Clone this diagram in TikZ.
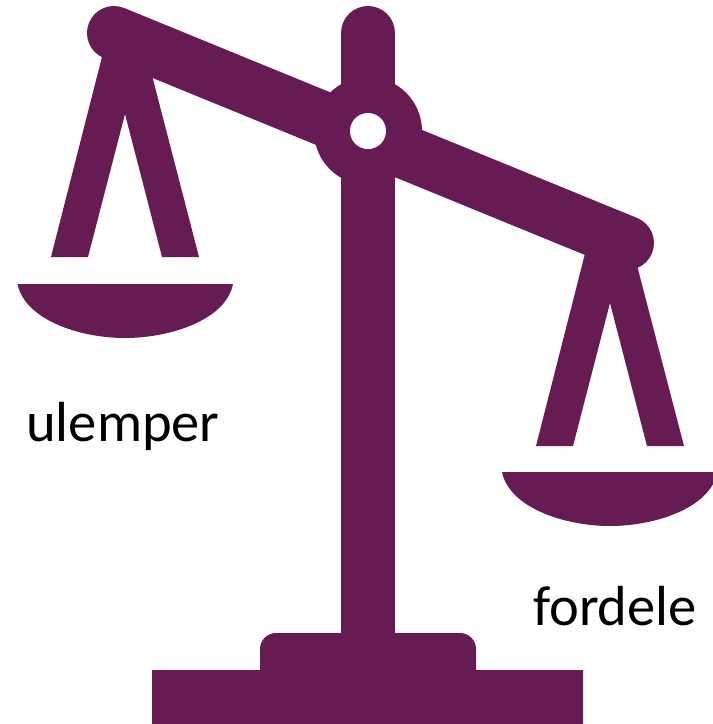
\documentclass[tikz,border=0pt]{standalone}
\usepackage{xcolor}
\usepackage{fontspec}
\setmainfont{Carlito}
\usepackage{tikz}
\definecolor{ScalePurple}{HTML}{661C52}
\tikzset{
  scalepart/.style={fill=ScalePurple,draw=none},
  scalelabel/.style={text=black,font=\fontsize{56.5}{66}\selectfont,inner sep=0pt}
}

\begin{document}
\begin{tikzpicture}[x=1pt,y=-1pt]
  \useasboundingbox (0,0) rectangle (713,724);
  \clip (0,0) rectangle (713,724);
  \fill[white] (0,0) rectangle (713,724);
  % beam, post, hub
  \draw[ScalePurple,line width=54pt,line cap=round] (114,33) -- (627,243);
  \draw[ScalePurple,line width=54pt,line cap=round] (368,33) -- (368,650);
  \fill[scalepart] (368,131) circle[radius=54];
  \fill[white] (368,131) circle[radius=18];
  % left pan
  \fill[scalepart] (106.3,40) -- (51,257) -- (88,257) -- (125,114) -- (162,257) -- (199,257) -- (148,60) -- cycle;
  \fill[scalepart] (17.5,284) -- (233,284) .. controls (226,320) and (170,338) .. (125,338) .. controls (80,338) and (25,320) .. (17.5,284) -- cycle;
  % right pan
  \fill[scalepart] (591,230) -- (536,446) -- (573,446) -- (610,303) -- (647,446) -- (684,446) -- (633,250) -- cycle;
  \fill[scalepart] (502,472) -- (717.5,472) .. controls (710.5,508) and (655,526) .. (610,526) .. controls (565,526) and (509.5,508) .. (502,472) -- cycle;
  % base
  \fill[scalepart] (152,670) -- (260,670) -- (260,649) arc[start angle=180,end angle=270,radius=16] -- (460,633) arc[start angle=270,end angle=360,radius=16] -- (476,670) -- (583,670) -- (583,724) -- (152,724) -- cycle;
  \node[scalelabel] (ulemper) at (123,426) {ulemper};
  \node[scalelabel] (fordele) at (615,606) {fordele};
\end{tikzpicture}
\end{document}
